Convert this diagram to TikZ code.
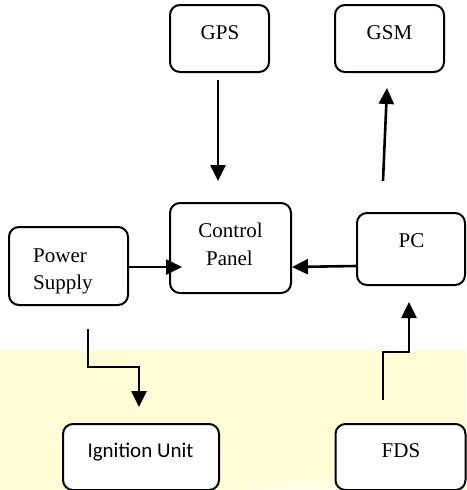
\documentclass[tikz,border=0pt]{standalone}
\usepackage{fontspec}
\setmainfont{Liberation Serif}
\newfontfamily\calibrifont{Carlito}
\usetikzlibrary{arrows.meta,calc}
\definecolor{yellowbg}{RGB}{255,252,214}
\tikzset{
  blockbox/.style={draw=black, line width=2pt, rounded corners=10pt, fill=white, inner sep=0pt},
  lbl/.style={inner sep=0pt, font=\fontsize{21}{28}\selectfont, anchor=base},
  conn/.style={line width=2.6pt, -{Triangle[width=15pt,length=16pt]}},
}
\begin{document}
\begin{tikzpicture}[x=1pt,y=-1pt]
\useasboundingbox (0,0) rectangle (466,490);
% background
\fill[yellowbg] (0,350) rectangle (466,490);
\begin{scope}
  \clip (0,350) rectangle (466,490);
  \shade[inner color=white, outer color=yellowbg] (320,500) ellipse [x radius=100, y radius=25];
\end{scope}
% boxes
\node[blockbox, minimum width=99pt, minimum height=67pt] (gps) at (219.5,38.5) {};
\node[blockbox, minimum width=109pt, minimum height=67pt] (gsm) at (389.5,38.5) {};
\node[blockbox, minimum width=121pt, minimum height=90pt] (ctrl) at (230.5,248) {};
\node[blockbox, minimum width=108pt, minimum height=72pt] (pc) at (411,249) {};
\node[blockbox, minimum width=119pt, minimum height=78pt] (ps) at (68.5,266) {};
\node[blockbox, minimum width=156pt, minimum height=66pt] (ign) at (141,457) {};
\node[blockbox, minimum width=130pt, minimum height=66pt] (fds) at (400.5,457) {};
% labels
\node[lbl] (gpsT) at (220,39) {GPS};
\node[lbl] (gsmT) at (389.5,39) {GSM};
\node[lbl] (ctrlT1) at (230.5,237) {Control};
\node[lbl] (ctrlT2) at (229.5,265) {Panel};
\node[lbl] (pcT) at (411.5,247) {PC};
\node[lbl, anchor=base west] (psT1) at (33,262) {Power};
\node[lbl, anchor=base west] (psT2) at (33,289) {Supply};
\node[lbl, font=\calibrifont\fontsize{21}{28}\selectfont] (ignT) at (140.5,457) {Ignition Unit};
\node[lbl] (fdsT) at (401,457) {FDS};
% connectors
\draw[conn] ($(gps.south)+(-1.5,7)$) -- ($(ctrl.north)+(-12.5,-21)$);
\draw[conn] ($(pc.north)+(-28,-31)$) -- ($(gsm.south)+(-2.5,15)$);
\draw[conn] ($(ps.east)+(0,1)$) -- ($(ctrl.west)+(13,19)$);
\draw[conn] ($(pc.west)+(0,17)$) -- ($(ctrl.east)+(0,19)$);
\draw[conn] ($(ps.south)+(19.5,23)$) |- ($(ign.north)+(-2,-56)$) -- ($(ign.north)+(-2,-16)$);
\draw[conn] ($(fds.north)+(-17.5,-23)$) |- ($(pc.south)+(-2,66)$) -- ($(pc.south)+(-2,16)$);
\end{tikzpicture}
\end{document}
